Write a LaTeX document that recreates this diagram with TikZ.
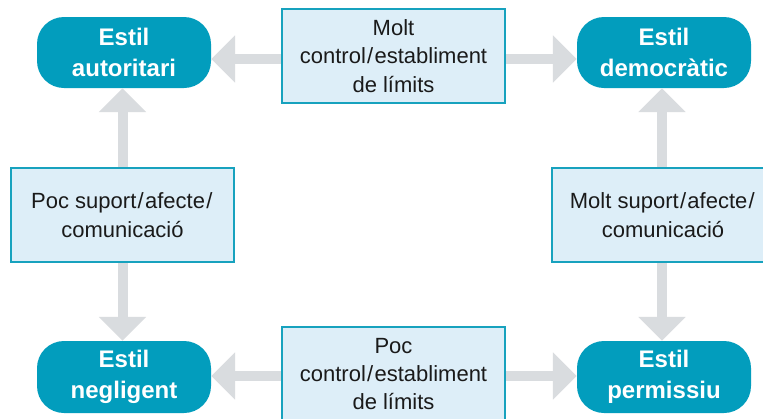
\documentclass[tikz,border=0pt]{standalone}
\usepackage{fontspec}
\setmainfont{Liberation Sans}
\usetikzlibrary{arrows.meta}
\definecolor{teal}{HTML}{029DBD}
\definecolor{boxline}{HTML}{17A2BE}
\definecolor{boxfill}{HTML}{DDEEF8}
\definecolor{arrowgray}{HTML}{D9DCDF}
\definecolor{txt}{HTML}{1A1A1A}
\newcommand{\slsh}{\kern1.3pt/\kern1.3pt}
\tikzset{
  stylenode/.style={rounded corners=27pt, fill=teal, draw=none, text=white,
    minimum width=174pt, minimum height=71pt, inner sep=0pt, align=center,
    font=\fontsize{24pt}{31pt}\selectfont\bfseries},
  factorbox/.style={fill=boxfill, draw=boxline, line width=2pt, text=txt,
    minimum width=223pt, minimum height=94pt, inner sep=0pt, align=center,
    font=\fontsize{22pt}{28.3pt}\selectfont},
  bigarrow/.style={arrowgray, line width=10pt,
    -{Triangle[width=46pt,length=24pt]}}
}
\begin{document}
\begin{tikzpicture}[x=1pt,y=-1pt]
\useasboundingbox (0,0) rectangle (763,418);
\clip (0,0) rectangle (763,418);
\fill[white] (0,0) rectangle (763,418);
% style nodes
\node[stylenode] (ta) at (124,52.5) {Estil\\autoritari};
\node[stylenode] (td) at (664,52.5) {Estil\\democràtic};
\node[stylenode, minimum height=72pt] (tn) at (124,377) {Estil\\negligent};
\node[stylenode, minimum height=72pt] (tp) at (664,377) {Estil\\permissiu};
% factor boxes
\node[factorbox] (tb) at (393.5,56) {Molt\\control\slsh establiment\\de límits};
\node[factorbox] (bb) at (393.5,374) {Poc\\control\slsh establiment\\de límits};
\node[factorbox] (lb) at (122.5,215) {Poc suport\slsh afecte\slsh\\comunicació};
\node[factorbox, minimum width=222pt] (rb) at (663,215) {Molt suport\slsh afecte\slsh\\comunicació};
% arrows
\coordinate (h1) at ([yshift=-3pt]tb.west);
\coordinate (h2) at ([yshift=-3pt]tb.east);
\coordinate (h3) at ([yshift=-2pt]bb.west);
\coordinate (h4) at ([yshift=-2pt]bb.east);
\draw[bigarrow] (h1) -- (h1 -| ta.east);
\draw[bigarrow] (h2) -- (h2 -| td.west);
\draw[bigarrow] (h3) -- (h3 -| tn.east);
\draw[bigarrow] (h4) -- (h4 -| tp.west);
\draw[bigarrow] (lb.north) -- (lb.north |- ta.south);
\draw[bigarrow] (lb.south) -- (lb.south |- tn.north);
\draw[bigarrow] ([xshift=-1pt]rb.north) -- ([xshift=-1pt]rb.north |- td.south);
\draw[bigarrow] ([xshift=-1pt]rb.south) -- ([xshift=-1pt]rb.south |- tp.north);
\end{tikzpicture}
\end{document}
